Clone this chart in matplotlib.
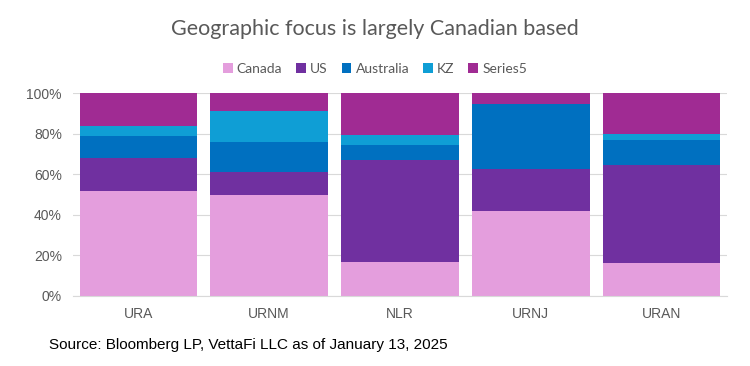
import numpy as np
import matplotlib.pyplot as plt
from matplotlib.ticker import PercentFormatter

funds = ["URA", "URNM", "NLR", "URNJ", "URAN"]
series = ["Canada", "US", "Australia", "KZ", "Series5"]
canada = [52.0, 49.7, 16.9, 42.1, 16.4]
us = [16.3, 11.5, 50.2, 20.4, 48.4]
australia = [10.6, 15.0, 7.4, 32.2, 12.0]
kz = [5.0, 15.1, 4.9, 0.0, 3.3]
series5 = [16.1, 8.7, 20.6, 5.3, 19.9]
colors = ["#E49EDD", "#7030A0", "#0070C0", "#0F9ED5", "#A02B93"]

fig = plt.figure(figsize=(7.5, 3.66), dpi=100)
ax = fig.add_axes([0.0973, 0.1913, 0.872, 0.5537])

x = np.arange(len(funds))
bottom = np.zeros(len(funds))
for name, vals, c in zip(series, [canada, us, australia, kz, series5], colors):
    ax.bar(x, vals, 0.9, bottom=bottom, color=c, label=name, zorder=2)
    bottom += np.array(vals)

ax.set_xlim(-0.5, 4.5)
ax.set_ylim(0, 100)
ax.set_yticks(range(0, 101, 20))
ax.yaxis.set_major_formatter(PercentFormatter(decimals=0))
ax.set_xticks(x)
ax.set_xticklabels(funds)
ax.grid(axis="y", color="#D9D9D9", lw=0.8, zorder=0)
for s in ["top", "right", "left"]:
    ax.spines[s].set_visible(False)
ax.spines["bottom"].set_color("#D9D9D9")
ax.tick_params(length=0, labelsize=10, labelcolor="#595959", pad=8)
for t in ax.get_xticklabels() + ax.get_yticklabels():
    t.set_family("Liberation Sans")

fig.text(0.5, 0.922, "Geographic focus is largely Canadian based", ha="center", va="center",
         fontsize=15.5, color="#595959", family="Lato")
fig.legend(loc="center", bbox_to_anchor=(0.5, 0.812), ncol=5, frameon=False,
           handlelength=0.7, handleheight=0.7, handletextpad=0.3, columnspacing=1.0,
           prop={"family": "Lato", "size": 10}, labelcolor="#595959")
fig.text(0.065, 0.057, "Source: Bloomberg LP, VettaFi LLC as of January 13, 2025",
         ha="left", va="center", fontsize=11, color="black", family="Liberation Sans")

fig.savefig("out.png", dpi=100)
